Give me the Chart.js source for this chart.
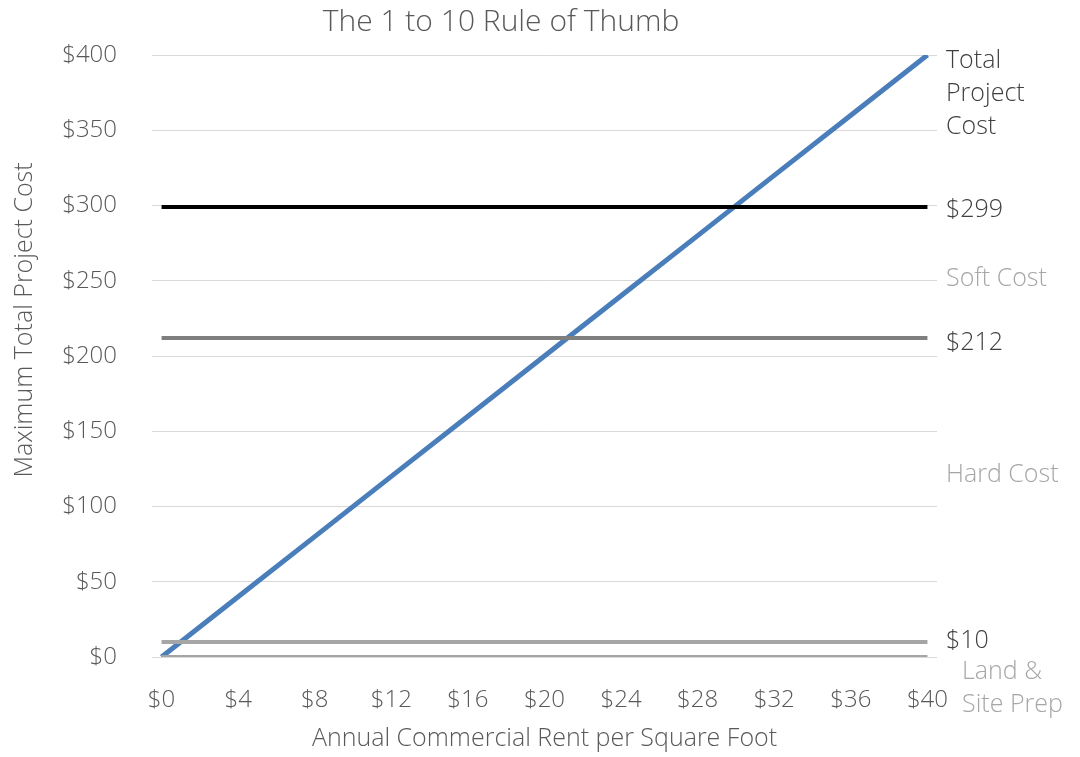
<!DOCTYPE html>
<html>
<head>
<meta charset="utf-8">
<script src="https://cdn.jsdelivr.net/npm/chart.js@4.4.0/dist/chart.umd.min.js"></script>
<style>
  html, body { margin: 0; padding: 0; background: #fff; }
  #wrap { width: 1080px; height: 757px; }
</style>
</head>
<body>
<div id="wrap"><canvas id="basechart" width="1080" height="757"></canvas></div>
<script>
// x: annual rent per sq ft, y: max total project cost (1 to 10 rule)
const rentTicks = [0, 4, 8, 12, 16, 20, 24, 28, 32, 36, 40];
const maxProjectCost = [0, 40, 80, 120, 160, 200, 240, 280, 320, 360, 400];
const costTicks = [0, 50, 100, 150, 200, 250, 300, 350, 400];

// horizontal cost levels
const totalCostLevel = 299;
const softCostLevel = 212;
const landCostLevel = 10;
const baseLevel = 0;

// labels at the right side, and the value where each one sits
const sideLabels = [['Total', 'Project', 'Cost'], ['$299'], ['Soft Cost'], ['$212'], ['Hard Cost'], ['$10'], ['Land &', 'Site Prep']];
const sideLabelValues = [396, 297, 251, 209, 121, 11, -10];

const font = "'Open Sans', 'Noto Sans', sans-serif";
const sideColors = ['#404040', '#404040', '#a6a6a6', '#404040', '#a6a6a6', '#404040', '#a6a6a6'];
const sideIndent = [9, 9, 9, 9, 9, 9, 25];

function flatLine(v) {
    return [{ x: rentTicks[0], y: v }, { x: rentTicks[rentTicks.length - 1], y: v }];
}

// Draws the title, the y axis title and the labels on the right
const sideText = {
    id: 'sideText',
    afterDraw(chart) {
        const ctx = chart.ctx;
        const y = chart.scales.y;
        const area = chart.chartArea;
        ctx.save();
        ctx.textBaseline = 'middle';

        ctx.textAlign = 'center';
        ctx.fillStyle = '#595959';
        ctx.font = '300 30px ' + font;
        ctx.fillText('The 1 to 10 Rule of Thumb', 501, 22);

        ctx.font = '300 25px ' + font;
        ctx.textAlign = 'left';
        sideLabels.forEach((lines, i) => {
            const top = y.getPixelForValue(sideLabelValues[i]);
            ctx.fillStyle = sideColors[i];
            lines.forEach((t, j) => ctx.fillText(t, area.right + sideIndent[i], top + j * 33));
        });

        // y axis title
        ctx.translate(25, 320);
        ctx.rotate(-Math.PI / 2);
        ctx.textAlign = 'center';
        ctx.fillStyle = '#595959';
        ctx.font = '300 25px ' + font;
        ctx.fillText('Maximum Total Project Cost', 0, 0);
        ctx.restore();
    }
};

const serverChart = new Chart(document.getElementById('basechart').getContext('2d'), {
    type: 'line',
    data: {
        datasets: [
            { data: flatLine(totalCostLevel), borderColor: '#000000', borderWidth: 4 },
            { data: flatLine(softCostLevel), borderColor: '#7f7f7f', borderWidth: 4 },
            { data: flatLine(landCostLevel), borderColor: '#a5a5a5', borderWidth: 4 },
            { data: flatLine(baseLevel), borderColor: '#a5a5a5', borderWidth: 4 },
            {
                data: rentTicks.map((r, i) => ({ x: r, y: maxProjectCost[i] })),
                borderColor: '#4a7ebb',
                borderWidth: 5
            }
        ]
    },
    options: {
        responsive: false,
        animation: false,
        layout: { padding: { left: 0, right: 143, top: 55, bottom: 0 } },
        elements: {
            point: { radius: 0 },
            line: { tension: 0, fill: false, borderCapStyle: 'butt' }
        },
        plugins: {
            legend: { display: false },
            tooltip: { enabled: false },
            title: { display: false }
        },
        scales: {
            x: {
                type: 'linear',
                min: -0.5,
                max: 40.5,
                afterBuildTicks: s => { s.ticks = rentTicks.map(v => ({ value: v })); },
                afterFit: s => { s.height = 100; },
                grid: { display: false },
                border: { display: false },
                ticks: {
                    color: '#595959',
                    font: { family: font, size: 24, weight: '300' },
                    padding: 21,
                    maxRotation: 0,
                    callback: v => '$' + v
                },
                title: {
                    display: true,
                    text: 'Annual Commercial Rent per Square Foot',
                    color: '#595959',
                    font: { family: font, size: 25, weight: '300' },
                    padding: { top: 0, bottom: 3 }
                }
            },
            y: {
                min: 0,
                max: 400,
                afterBuildTicks: s => { s.ticks = costTicks.map(v => ({ value: v })); },
                afterFit: s => { s.width = 152; },
                grid: { color: '#d9d9d9', lineWidth: 1, drawTicks: false },
                border: { display: false },
                ticks: {
                    color: '#595959',
                    font: { family: font, size: 24, weight: '300' },
                    padding: 35,
                    callback: v => '$' + v
                }
            }
        }
    },
    plugins: [sideText]
});
</script>
</body>
</html>
